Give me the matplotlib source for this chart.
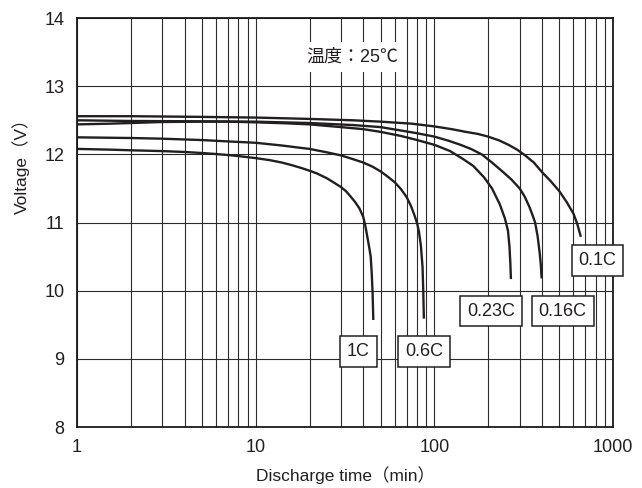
import numpy as np
import matplotlib
matplotlib.use("Agg")
import matplotlib.pyplot as plt
from matplotlib.ticker import FixedLocator, NullFormatter

plt.rcParams['font.family'] = ['Liberation Sans', 'Noto Sans CJK JP', 'DejaVu Sans']

# discharge curves: time (min), voltage (V)
t_1c = [1, 1.5, 2, 3, 4, 5, 6, 7, 8, 10, 12, 14, 16, 18, 20, 22, 25, 28, 30, 32,
        34, 36, 38, 40, 41, 41.8, 43, 44, 44.6, 45.1, 45.5]
v_1c = [12.08, 12.07, 12.06, 12.048, 12.035, 12.02, 12.005, 11.99, 11.975, 11.945, 11.915,
        11.88, 11.84, 11.80, 11.76, 11.72, 11.65, 11.57, 11.52, 11.46, 11.38, 11.30,
        11.21, 11.08, 10.96, 10.84, 10.66, 10.50, 10.25, 9.95, 9.57]

t_06c = [1, 2, 3, 5, 7, 10, 14, 20, 25, 30, 35, 40, 45, 50, 55, 60, 65, 70, 74, 77,
         80, 82, 84, 85.8, 86.6, 87.3]
v_06c = [12.25, 12.24, 12.23, 12.21, 12.19, 12.17, 12.13, 12.08, 12.03, 11.985, 11.93,
         11.88, 11.82, 11.75, 11.67, 11.59, 11.49, 11.37, 11.24, 11.12, 10.99, 10.86,
         10.66, 10.35, 10.00, 9.59]

t_023c = [1, 1.5, 2, 3, 5, 7, 10, 15, 20, 30, 40, 50, 65, 80, 100, 122, 145, 165,
          190, 210, 232, 248, 258, 263, 266, 268]
v_023c = [12.44, 12.45, 12.46, 12.475, 12.48, 12.48, 12.47, 12.455, 12.44, 12.40, 12.37,
          12.33, 12.27, 12.21, 12.14, 12.05, 11.93, 11.83, 11.66, 11.50, 11.27, 11.06,
          10.88, 10.65, 10.40, 10.17]

t_016c = [1, 2, 5, 10, 20, 35, 50, 65, 80, 100, 120, 140, 160, 184, 210, 240, 270,
          300, 320, 340, 355, 366, 378, 388, 394, 398]
v_016c = [12.50, 12.49, 12.485, 12.48, 12.46, 12.43, 12.40, 12.35, 12.31, 12.26, 12.20,
          12.14, 12.08, 12.00, 11.88, 11.75, 11.63, 11.50, 11.38, 11.23, 11.10, 11.00,
          10.80, 10.56, 10.38, 10.18]

t_01c = [1, 2, 5, 10, 20, 35, 50, 75, 100, 125, 150, 175, 200, 230, 260, 290, 320,
         360, 400, 450, 500, 550, 600, 630, 660]
v_01c = [12.56, 12.56, 12.55, 12.54, 12.52, 12.50, 12.48, 12.45, 12.41, 12.37, 12.33,
         12.30, 12.26, 12.205, 12.14, 12.07, 11.99, 11.88, 11.74, 11.60, 11.46, 11.30,
         11.13, 10.98, 10.79]

labels = ['1C', '0.6C', '0.23C', '0.16C', '0.1C']
label_x = [37.5, 87.5, 207, 522, 817]
label_y = [9.11, 9.11, 9.70, 9.70, 10.44]

fig = plt.figure(figsize=(6.42, 4.88), dpi=100)
ax = fig.add_axes([0.12, 0.125, 0.835, 0.838])

ax.set_xscale('log')
ax.set_xlim(1, 1000)
ax.set_ylim(8, 14)

ax.xaxis.set_major_locator(FixedLocator([1, 10, 100, 1000]))
ax.xaxis.set_minor_locator(FixedLocator([m * 10**d for d in range(3) for m in range(2, 10)]))
ax.xaxis.set_minor_formatter(NullFormatter())
ax.set_xticklabels(['1', '10', '100', '1000'])
ax.set_yticks(range(8, 15))

ax.grid(True, which='both', axis='x', color='#2b2b2b', lw=0.8)
ax.grid(True, which='major', axis='y', color='#2b2b2b', lw=0.8)
ax.tick_params(which='both', length=0, labelsize=13, pad=9, colors='#231f20')

for s in ax.spines.values():
    s.set_linewidth(1.3)
    s.set_color('#1a1a1a')

line_kw = dict(color='#231f20', lw=1.7, solid_capstyle='butt', solid_joinstyle='round')
for t, v in [(t_1c, v_1c), (t_06c, v_06c), (t_023c, v_023c), (t_016c, v_016c), (t_01c, v_01c)]:
    ax.plot(t, v, **line_kw)

for lab, x, y in zip(labels, label_x, label_y):
    ax.text(x, y, lab, ha='center', va='center', fontsize=13, color='#231f20',
            bbox=dict(boxstyle='square,pad=0.38', fc='white', ec='#231f20', lw=1.1))

ax.text(34.8, 13.43, '温度：25℃', ha='center', va='center', fontsize=13, color='#231f20',
        bbox=dict(boxstyle='square,pad=0.35', fc='white', ec='none'))

ax.set_xlabel('Discharge time（min）', fontsize=12.5, labelpad=7, color='#231f20')
ax.set_ylabel('Voltage（V）', fontsize=12.5, color='#231f20')
ax.yaxis.set_label_coords(-0.088, 0.648)

fig.savefig('out.png', dpi=100)
